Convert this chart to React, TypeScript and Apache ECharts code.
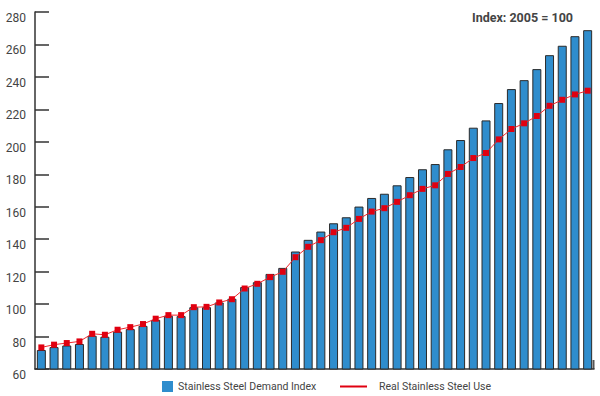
import React, { useEffect, useRef } from "react";
import * as echarts from "echarts";

const years: string[] = [];
for (let y = 1980; y <= 2023; y++) years.push(String(y));

const demandIndex = [
  71.7, 73.5, 74.5, 75.4, 80.5, 79.9, 83.0, 84.6, 86.6, 90.3, 92.8, 92.6, 98.1,
  98.1, 101.0, 103.3, 110.5, 113.5, 118.6, 122.3, 132.4, 139.6, 144.7, 149.8,
  153.5, 160.1, 165.4, 168.0, 173.2, 178.3, 183.1, 186.3, 195.4, 201.1, 208.7,
  213.2, 223.9, 232.5, 238.0, 244.8, 253.4, 259.2, 265.1, 268.8,
];

const realUse = [
  73.3, 75.0, 76.0, 77.0, 81.7, 81.1, 84.2, 85.8, 87.7, 91.0, 93.2, 93.2, 98.1,
  98.3, 101.0, 103.0, 109.6, 112.5, 116.6, 119.9, 128.9, 135.3, 139.4, 144.3,
  147.0, 152.5, 157.0, 159.1, 163.0, 167.1, 171.0, 173.2, 180.2, 184.5, 190.0,
  193.1, 201.5, 207.9, 211.4, 215.9, 222.2, 225.9, 229.2, 231.5,
];

const seriesNames = ["Stainless Steel Demand Index", "Real Stainless Steel Use"];
const titleText = "Index: 2005 = 100";

const FONT = "Roboto, 'Noto Sans', sans-serif";

export default function App() {
  const ref = useRef<HTMLDivElement>(null);
  useEffect(() => {
    if (!ref.current) return;
    const chart = echarts.init(ref.current, null, { renderer: "svg" });
    chart.setOption({
      animation: false,
      textStyle: { fontFamily: FONT },
      title: {
        text: titleText,
        right: 22,
        top: 6,
        textStyle: { fontSize: 12.5, fontWeight: "bold", color: "#444", fontFamily: FONT },
      },
      legend: [
        {
          data: [{ name: seriesNames[0], itemStyle: { borderWidth: 0, color: "#2f8dcd" } }],
          left: 162,
          top: 381,
          padding: 0,
          itemWidth: 11,
          itemHeight: 11,
          icon: "rect",
          textStyle: { fontSize: 10.5, color: "#444", fontFamily: FONT },
        },
        {
          data: [seriesNames[1]],
          left: 340,
          top: 381,
          padding: 0,
          itemWidth: 27,
          itemHeight: 2,
          icon: "rect",
          textStyle: { fontSize: 10.5, color: "#444", fontFamily: FONT, padding: [0, 0, 0, 7] },
        },
      ],
      grid: { left: 35, right: 6, top: 12, bottom: 27, containLabel: false },
      xAxis: {
        type: "category",
        data: years,
        boundaryGap: true,
        axisLine: { lineStyle: { color: "#333", width: 1.5 } },
        axisTick: { show: false },
        axisLabel: { show: false },
      },
      yAxis: {
        type: "value",
        min: 60,
        max: 280,
        interval: 20,
        splitLine: { show: false },
        axisLine: { show: true, lineStyle: { color: "#333", width: 1.5 } },
        axisTick: { show: true, inside: true, length: 14, lineStyle: { color: "#333", width: 1.5 } },
        axisLabel: {
          color: "#444",
          fontSize: 12,
          fontFamily: FONT,
          margin: 9,
          verticalAlign: "top",
          lineHeight: 12,
        },
      },
      graphic: [
        {
          type: "line",
          shape: { x1: 593.5, y1: 360, x2: 593.5, y2: 369 },
          style: { stroke: "#555", lineWidth: 2 },
        },
      ],
      series: [
        {
          name: seriesNames[0],
          type: "bar",
          data: demandIndex,
          barWidth: 9,
          itemStyle: { color: "#2f8dcd", borderColor: "#2a2a2a", borderWidth: 1 },
          z: 2,
        },
        {
          name: seriesNames[1],
          type: "line",
          data: realUse,
          symbol: "rect",
          symbolSize: 6,
          lineStyle: { color: "#f0282d", width: 1 },
          itemStyle: { color: "#e00010" },
          z: 3,
        },
      ],
    });
    return () => chart.dispose();
  }, []);
  return <div ref={ref} style={{ width: 600, height: 396, position: "absolute", left: 0, top: 0 }} />;
}
